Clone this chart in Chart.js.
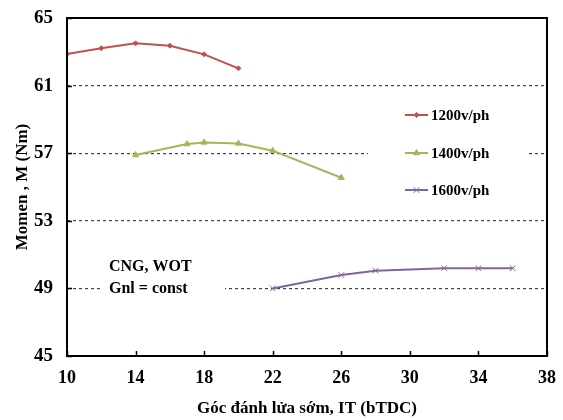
<!DOCTYPE html>
<html>
<head>
<meta charset="utf-8">
<script src="https://cdn.jsdelivr.net/npm/chart.js@4/dist/chart.umd.min.js"></script>
<style>
  html, body { margin: 0; padding: 0; background: #fff; }
  #wrap { width: 563px; height: 420px; }
</style>
</head>
<body>
<div id="wrap"><canvas id="c" width="563" height="420"></canvas></div>
<script>
// Ignition advance (degrees bTDC) and measured torque for each engine speed
const it1200 = [10, 12, 14, 16, 18, 20];
const m1200  = [62.87, 63.21, 63.50, 63.36, 62.85, 62.02];
const it1400 = [14, 17, 18, 20, 22, 26];
const m1400  = [56.89, 57.54, 57.64, 57.58, 57.15, 55.55];
const it1600 = [22, 26, 28, 32, 34, 36];
const m1600  = [49.00, 49.79, 50.05, 50.19, 50.19, 50.19];

const seriesNames = ['1200v/ph', '1400v/ph', '1600v/ph'];
const noteLines = ['CNG, WOT', 'Gnl = const'];
const xTitle = 'Góc đánh lửa sớm, IT (bTDC)';
const yTitle = 'Momen , M (Nm)';

const FONT = "'Liberation Serif', 'Times New Roman', serif";
const colors = ['#C0504D', '#9BBB59', '#8064A2'];
const markers = ['rectRot', 'triangle', 'crossRot'];
const markerSizes = [2.5, 3.5, 4];

function pts(xs, ys) { return xs.map((x, i) => ({ x: x, y: ys[i] })); }

const datasets = [[it1200, m1200], [it1400, m1400], [it1600, m1600]].map((d, i) => ({
  label: seriesNames[i],
  data: pts(d[0], d[1]),
  showLine: true,
  borderColor: colors[i],
  backgroundColor: colors[i],
  borderWidth: 2,
  pointStyle: markers[i],
  pointRadius: markerSizes[i],
  pointBorderWidth: 1,
  tension: 0
}));

// Plot frame, inward tick marks, white panels behind the legend and note, and their text
const decor = {
  id: 'decor',
  beforeDatasetsDraw(chart) {
    const ctx = chart.ctx;
    ctx.save();
    ctx.fillStyle = '#fff';
    ctx.fillRect(368, 100, 158, 104);
    ctx.fillRect(100, 255, 125, 45);
    ctx.restore();
  },
  afterDraw(chart) {
    const ctx = chart.ctx;
    const a = chart.chartArea;
    const xs = chart.scales.x, ys = chart.scales.y;
    ctx.save();
    ctx.strokeStyle = '#000';
    ctx.lineWidth = 2;
    ctx.strokeRect(a.left, a.top, a.right - a.left, a.bottom - a.top);
    ctx.lineWidth = 1.5;
    ctx.beginPath();
    xs.ticks.forEach(t => {
      const px = Math.round(xs.getPixelForValue(t.value)) + 0.5;
      ctx.moveTo(px, a.bottom); ctx.lineTo(px, a.bottom - 5);
    });
    ys.ticks.forEach(t => {
      const py = Math.round(ys.getPixelForValue(t.value)) + 0.5;
      ctx.moveTo(a.left, py); ctx.lineTo(a.left + 5, py);
    });
    ctx.stroke();

    // legend
    ctx.font = 'bold 15px ' + FONT;
    ctx.textBaseline = 'middle';
    ctx.textAlign = 'left';
    const rows = [115, 153, 190];
    chart.data.datasets.forEach((ds, i) => {
      const y = rows[i];
      ctx.strokeStyle = ds.borderColor;
      ctx.fillStyle = ds.backgroundColor;
      ctx.lineWidth = 2;
      ctx.beginPath(); ctx.moveTo(405, y); ctx.lineTo(428, y); ctx.stroke();
      ctx.lineWidth = 1;
      Chart.helpers.drawPoint(ctx, { pointStyle: ds.pointStyle, radius: ds.pointRadius, rotation: 0, borderWidth: 1 }, 416.5, y);
      ctx.fillStyle = '#000';
      ctx.fillText(ds.label, 431, y + 1);
    });

    // note
    ctx.font = 'bold 16px ' + FONT;
    ctx.fillStyle = '#000';
    ctx.fillText(noteLines[0], 109, 267);
    ctx.fillText(noteLines[1], 109, 289);
    ctx.restore();
  }
};

new Chart(document.getElementById('c'), {
  type: 'scatter',
  data: { datasets: datasets },
  options: {
    responsive: false,
    animation: false,
    layout: { padding: { top: 18, right: 16, left: 0, bottom: 0 } },
    plugins: { legend: { display: false }, tooltip: { enabled: false } },
    scales: {
      x: {
        type: 'linear',
        min: 10, max: 38,
        afterFit(s) { s.height = 64; s.paddingLeft = 0; s.paddingRight = 0; },
        ticks: { stepSize: 4, padding: 12, color: '#000', font: { family: FONT, size: 18, weight: 'bold' } },
        grid: { display: false, drawTicks: false },
        border: { display: false },
        title: { display: true, text: xTitle, color: '#000', padding: { top: 0, bottom: 1 }, font: { family: FONT, size: 17, weight: 'bold' } }
      },
      y: {
        type: 'linear',
        min: 45, max: 65,
        afterFit(s) { s.width = 67; s.paddingTop = 0; s.paddingBottom = 0; },
        ticks: { stepSize: 4, padding: 14, color: '#000', font: { family: FONT, size: 19, weight: 'bold' } },
        grid: {
          drawTicks: false,
          color: c => (c.tick && (c.tick.value === 45 || c.tick.value === 65)) ? 'rgba(0,0,0,0)' : '#444',
          lineWidth: 1.2
        },
        border: { display: false, dash: [3, 3] },
        title: { display: true, text: yTitle, color: '#000', padding: { top: 12, bottom: 0 }, font: { family: FONT, size: 17, weight: 'bold' } }
      }
    }
  },
  plugins: [decor]
});
</script>
</body>
</html>
